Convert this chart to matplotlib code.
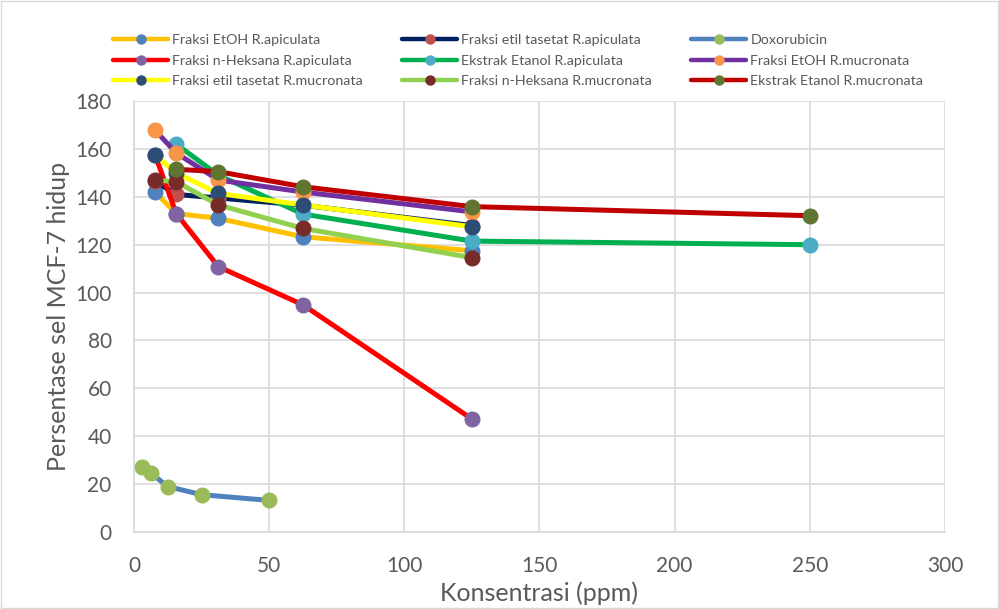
import numpy as np
import matplotlib
matplotlib.use("Agg")
import matplotlib.pyplot as plt
from matplotlib.lines import Line2D

plt.rcParams['font.family'] = ['Lato', 'DejaVu Sans']

# konsentrasi (ppm)
x_main = [7.8125, 15.625, 31.25, 62.5, 125]
x_short = [15.625, 31.25, 62.5, 125, 250]
x_doxo = [3.125, 6.25, 12.5, 25, 50]

etoh_api = [142, 133, 131, 123.3, 117.5]
etil_api = [146.5, 141, 139.5, 136.5, 128]
doxo = [27.2, 24.6, 19.0, 15.6, 13.2]
nhek_api = [157.5, 133, 110.8, 94.9, 47.2]
ekstrak_api = [162, 149, 132.8, 121.5, 120]
etoh_muc = [167.8, 158.3, 147, 142, 133.7]
etil_muc = [157.5, 150, 141.4, 136.6, 127.5]
nhek_muc = [147, 146.3, 136.6, 126.8, 114.6]
ekstrak_muc = [151.5, 150.5, 144.2, 135.9, 132.1]

series = [
    ("Fraksi EtOH R.apiculata", x_main, etoh_api, "#ffc000", "#4f81bd"),
    ("Fraksi etil tasetat R.apiculata", x_main, etil_api, "#002060", "#c0504d"),
    ("Doxorubicin", x_doxo, doxo, "#4f81bd", "#9bbb59"),
    ("Fraksi n-Heksana R.apiculata", x_main, nhek_api, "#ff0000", "#8064a2"),
    ("Ekstrak Etanol R.apiculata", x_short, ekstrak_api, "#00b050", "#4bacc6"),
    ("Fraksi EtOH R.mucronata", x_main, etoh_muc, "#7030a0", "#f79646"),
    ("Fraksi etil tasetat R.mucronata", x_main, etil_muc, "#ffff00", "#2c4d75"),
    ("Fraksi n-Heksana R.mucronata", x_main, nhek_muc, "#92d050", "#772c2a"),
    ("Ekstrak Etanol R.mucronata", x_short, ekstrak_muc, "#c00000", "#5f7530"),
]

fig = plt.figure(figsize=(9.99, 6.09), dpi=100)
ax = fig.add_axes([0.1341, 0.1264, 0.8118, 0.7077])

for name, xs, ys, lc, mc in series:
    ax.plot(xs, ys, color=lc, lw=3.6, marker='o', ms=10.5,
            mfc=mc, mec=mc, label=name, solid_capstyle='round')

ax.set_xlim(0, 300)
ax.set_ylim(0, 180)
ax.set_xticks(np.arange(0, 301, 50))
ax.set_yticks(np.arange(0, 181, 20))
ax.grid(True, color='#d9d9d9', lw=1.2)
ax.set_axisbelow(True)
for s in ax.spines.values():
    s.set_visible(False)
for s in ['left', 'bottom']:
    ax.spines[s].set_visible(True)
    ax.spines[s].set_color('#d9d9d9')
    ax.spines[s].set_linewidth(1.2)
ax.tick_params(length=0, labelsize=15, colors='#595959')
ax.tick_params(axis='x', pad=17)
ax.tick_params(axis='y', pad=16)
ax.set_xlabel("Konsentrasi (ppm)", fontsize=18, color='#595959', labelpad=4)
ax.set_ylabel("Persentase sel MCF-7 hidup", fontsize=18, color='#595959', labelpad=4)

# legend: 3 kolom, isi baris per baris seperti di Excel
col_x = [113, 402, 691]
for c in range(3):
    idx = [c, c + 3, c + 6]
    hs = [Line2D([], [], color=series[i][3], lw=3.2, marker='o', ms=6.5,
                 mfc=series[i][4], mec=series[i][4], solid_capstyle='round') for i in idx]
    fig.legend(hs, [series[i][0] for i in idx], loc='upper left',
               bbox_to_anchor=(col_x[c] / 999, 1 - 34 / 609),
               frameon=False, fontsize=10.3, handlelength=3.85,
               handletextpad=0.3, labelspacing=0.6, borderpad=0,
               borderaxespad=0, labelcolor='#595959')

fig.patches.append(plt.Rectangle((0.001, 0.001), 0.998, 0.998, transform=fig.transFigure,
                                 fill=False, ec='#d9d9d9', lw=1))
fig.savefig("out.png", dpi=100)
